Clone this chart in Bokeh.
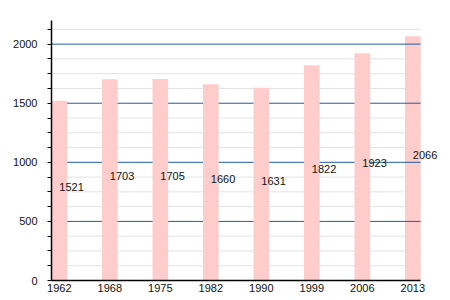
from bokeh.plotting import figure
from bokeh.models import FixedTicker, ColumnDataSource, Range1d, LabelSet
from bokeh.core.properties import value
from bokeh.embed import file_html
from bokeh.resources import INLINE

years = ["1962", "1968", "1975", "1982", "1990", "1999", "2006", "2013"]
population = [1521, 1703, 1705, 1660, 1631, 1822, 1923, 2066]
y_major = [0, 500, 1000, 1500, 2000]
y_minor = [125, 250, 375, 625, 750, 875, 1125, 1250, 1375, 1625, 1750, 1875, 2125]

n = len(years)
xs = list(range(n))
half_w = 0.155
x_lo, x_hi = -half_w, n - 1 + half_w
px_per_unit = 50.5
frame_w = 389
x_end = x_lo + frame_w / px_per_unit

src = ColumnDataSource(dict(
    x=xs, top=population,
    ly=[v / 2 + 30 for v in population],
    lab=[str(v) for v in population],
))
src_front = ColumnDataSource(dict(x=xs[:n - 1], top=population[:n - 1]))
src_back = ColumnDataSource(dict(x=xs[n - 1:], top=population[n - 1:]))
maj = [v for v in y_major if v > 0]
src_major = ColumnDataSource(dict(x0=[x_lo] * len(maj), x1=[x_hi] * len(maj), y=maj))
src_minor = ColumnDataSource(dict(x0=[x_lo] * len(y_minor), x1=[x_hi] * len(y_minor), y=y_minor))

p = figure(width=450, height=300, output_backend="svg", toolbar_location=None,
           x_range=Range1d(x_lo, x_end), y_range=Range1d(0, 2200),
           min_border_left=51, min_border_right=10, min_border_top=20, min_border_bottom=20)
p.outline_line_color = None
p.background_fill_color = "white"
p.border_fill_color = "white"
p.grid.visible = False

p.segment(x0="x0", x1="x1", y0="y", y1="y", source=src_minor, line_color="#e2e2e2", line_width=1)
p.vbar(x="x", top="top", width=2 * half_w, source=src_back, fill_color="#ffcccc", line_color=None)
p.segment(x0="x0", x1="x1", y0="y", y1="y", source=src_major, line_color="#1f5f9f", line_width=1)
p.vbar(x="x", top="top", width=2 * half_w, source=src_front, fill_color="#ffcccc", line_color=None)
p.text(x="x", y="ly", text="lab", source=src, text_align="left", text_baseline="middle",
       text_font=value("Liberation Sans"), text_font_size="11px", text_color="#111111")

p.xaxis.ticker = FixedTicker(ticks=xs)
p.xaxis.major_label_overrides = {i: y for i, y in enumerate(years)}
p.xaxis.bounds = (x_lo, x_hi)
p.xaxis.major_tick_out = 0
p.xaxis.major_tick_in = 0
p.xaxis.minor_tick_out = 0
p.xaxis.minor_tick_in = 0
p.xaxis.major_label_standoff = 3
p.xaxis.axis_line_color = "black"
p.xaxis.axis_line_width = 1.5

p.yaxis.ticker = FixedTicker(ticks=y_major, minor_ticks=y_minor)
p.yaxis.major_tick_out = 4
p.yaxis.major_tick_in = 0
p.yaxis.minor_tick_out = 4
p.yaxis.minor_tick_in = 0
p.yaxis.major_label_standoff = 10
p.yaxis.axis_line_color = "black"
p.yaxis.axis_line_width = 1.5
p.yaxis.major_tick_line_color = "black"
p.yaxis.minor_tick_line_color = "black"

for ax in (p.xaxis, p.yaxis):
    ax.major_label_text_font = "Liberation Sans"
    ax.major_label_text_font_size = "11px"
    ax.major_label_text_color = "#111111"

open("out.html", "w").write(file_html(p, INLINE))
